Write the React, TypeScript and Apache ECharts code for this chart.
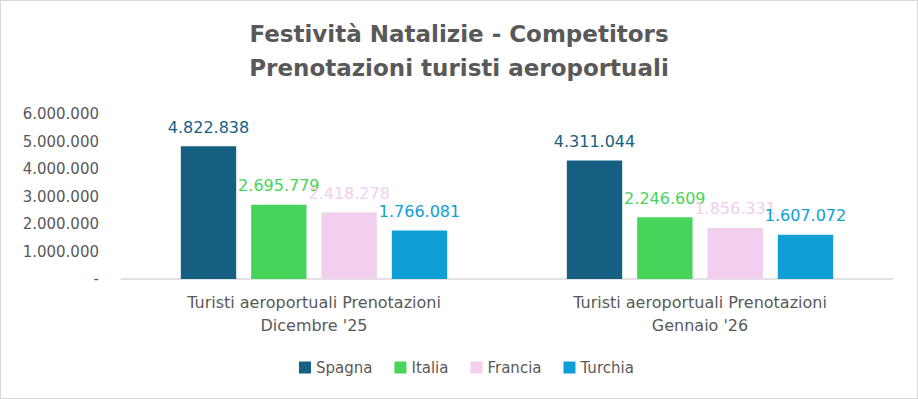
import React, { useEffect, useRef } from "react";
import * as echarts from "echarts";

const categories = ["Turisti aeroportuali Prenotazioni\nDicembre '25", "Turisti aeroportuali Prenotazioni\nGennaio '26"];
const seriesNames = ["Spagna", "Italia", "Francia", "Turchia"];
const spagna = [4822838, 4311044];
const italia = [2695779, 2246609];
const francia = [2418278, 1856331];
const turchia = [1766081, 1607072];
const colors = ["#156082", "#47D45A", "#F2CEEF", "#0F9ED5"];
const titleLines = ["Festività Natalizie - Competitors", "Prenotazioni turisti aeroportuali"];

const fmt = (v: number) => {
  if (v === 0) return "-";
  return Math.round(v).toString().replace(/\B(?=(\d{3})+(?!\d))/g, ".");
};

export default function App() {
  const ref = useRef<HTMLDivElement>(null);
  useEffect(() => {
    if (!ref.current) return;
    const chart = echarts.init(ref.current, null, { renderer: "svg" });
    const font = "'DejaVu Sans', sans-serif";
    const data = [spagna, italia, francia, turchia];
    chart.setOption({
      animation: false,
      textStyle: { fontFamily: font },
      title: {
        text: titleLines.join("\n"),
        left: "center",
        top: 11,
        textStyle: { fontSize: 23, fontWeight: "bold", color: "#595959", lineHeight: 34, fontFamily: font },
      },
      legend: {
        bottom: 18,
        left: 293,
        itemWidth: 12,
        itemHeight: 12,
        itemGap: 22,
        icon: "rect",
        textStyle: { fontSize: 15, color: "#595959", fontFamily: font },
        data: seriesNames,
      },
      grid: { left: 120, right: 24, top: 113, bottom: 119, containLabel: false },
      xAxis: {
        type: "category",
        data: categories,
        axisLine: { lineStyle: { color: "#d9d9d9", width: 1.5 } },
        axisTick: { show: false },
        axisLabel: { fontSize: 16, color: "#595959", lineHeight: 23, margin: 12, fontFamily: font },
      },
      yAxis: {
        type: "value",
        min: 0,
        max: 6000000,
        interval: 1000000,
        axisLine: { show: false },
        axisTick: { show: false },
        splitLine: { show: false },
        axisLabel: { fontSize: 15, color: "#595959", margin: 22, formatter: (v: number) => fmt(v), fontFamily: font },
      },
      series: seriesNames.map((name, i) => ({
        name,
        type: "bar",
        data: data[i],
        barGap: "27%",
        barCategoryGap: "31%",
        itemStyle: { color: colors[i] },
        label: {
          show: true,
          position: "top",
          distance: 11,
          color: colors[i],
          fontSize: 16,
          fontFamily: font,
          formatter: (p: any) => fmt(p.value),
        },
      })),
    });
    return () => chart.dispose();
  }, []);
  return (
    <div
      ref={ref}
      style={{
        position: "fixed",
        left: 0,
        top: 0,
        width: 918,
        height: 399,
        boxSizing: "border-box",
        border: "1px solid #d9d9d9",
        background: "#fff",
      }}
    />
  );
}
